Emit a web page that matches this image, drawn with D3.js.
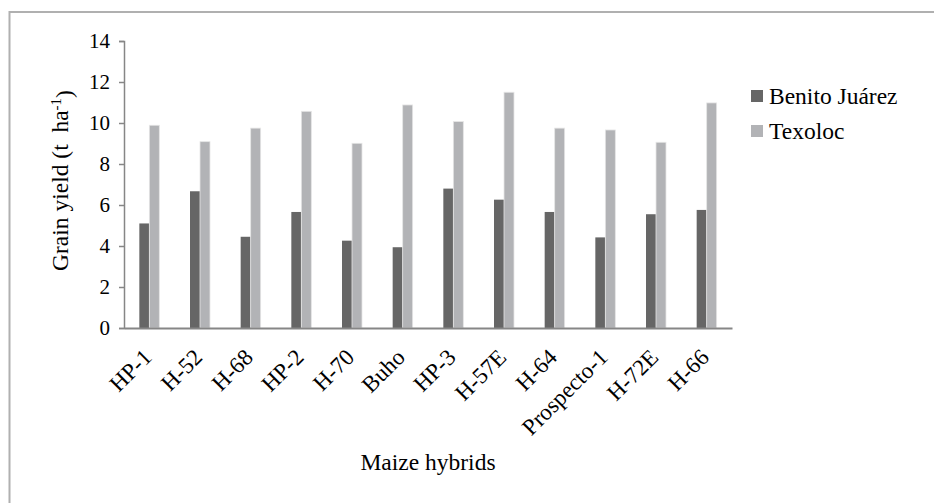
<!DOCTYPE html>
<html>
<head>
<meta charset="utf-8">
<script src="https://cdn.jsdelivr.net/npm/d3@7"></script>
<style>
  body { margin: 0; background: #fff; }
  svg, svg text { font-family: "Liberation Serif", "Times New Roman", Times, serif !important; fill: #000; }
</style>
</head>
<body>
<div id="chart"></div>
<script>
var hybrids = ["HP-1", "H-52", "H-68", "HP-2", "H-70", "Buho", "HP-3", "H-57E", "H-64", "Prospecto-1", "H-72E", "H-66"];
var benitoJuarez = [5.1, 6.67, 4.45, 5.66, 4.26, 3.94, 6.8, 6.26, 5.66, 4.42, 5.55, 5.76];
var texoloc = [9.89, 9.09, 9.75, 10.57, 9.01, 10.88, 10.07, 11.5, 9.75, 9.66, 9.06, 10.98];
var seriesNames = ["Benito Juárez", "Texoloc"];
var yTicks = [0, 2, 4, 6, 8, 10, 12, 14];

var colors = ["#666666", "#b2b3b6"];
var serif = "'Liberation Serif', 'Times New Roman', serif";

var margin = { left: 124, right: 202, top: 41, bottom: 175 };
var width = 934 - margin.left - margin.right,
	height = 503 - margin.top - margin.bottom;

var svg = d3.select("#chart")
	.append("svg")
	.attr("width", 934)
	.attr("height", 503)
	.style("font-family", serif);

// outer frame (only left and top edge show)
svg.append("rect")
	.attr("x", 9.5)
	.attr("y", 12)
	.attr("width", 940)
	.attr("height", 520)
	.attr("fill", "none")
	.attr("stroke", "#b0b0b0")
	.attr("stroke-width", 2);

var g = svg.append("g")
	.attr("transform", "translate(" + margin.left + ", " + margin.top + ")");

var x = d3.scaleBand()
	.domain(hybrids)
	.range([0, width]);

var x1 = d3.scaleBand()
	.domain(seriesNames)
	.range([x.bandwidth() / 2 - 10, x.bandwidth() / 2 + 10]);

var y = d3.scaleLinear()
	.domain([0, 14])
	.range([height, 0]);

var yAxisCall = d3.axisLeft(y)
	.tickValues(yTicks)
	.tickSize(5)
	.tickPadding(9);
var yAxis = g.append("g")
	.attr("class", "y axis")
	.call(yAxisCall)
	.attr("font-family", null);
yAxis.select(".domain").attr("stroke", "#868686").attr("stroke-width", 1.5);
yAxis.selectAll(".tick line").attr("stroke", "#868686").attr("stroke-width", 1.5);
yAxis.selectAll("text")
	.style("font-family", serif)
	.style("font-size", "21px");

var series = [benitoJuarez, texoloc];
series.forEach(function(vals, si){
	g.selectAll("rect.s" + si)
		.data(hybrids)
		.enter()
		.append("rect")
			.attr("class", "s" + si)
			.attr("x", function(d){ return x(d) + x1(seriesNames[si]); })
			.attr("y", function(d, i){ return y(vals[i]); })
			.attr("width", x1.bandwidth())
			.attr("height", function(d, i){ return height - y(vals[i]); })
			.attr("fill", colors[si])
			.attr("stroke", si == 1 ? "#e6e6e6" : "none")
			.attr("stroke-width", 0.8);
});

// x axis line
var xAxisCall = d3.axisBottom(x).tickSize(0).tickFormat("");
g.append("g")
	.attr("class", "x axis")
	.attr("transform", "translate(0, " + height + ")")
	.call(xAxisCall)
	.select(".domain")
		.attr("stroke", "#868686")
		.attr("stroke-width", 2);

g.selectAll("text.xlab")
	.data(hybrids)
	.enter()
	.append("text")
		.attr("class", "xlab")
		.attr("transform", function(d){
			return "translate(" + (x(d) + x.bandwidth() / 2 - 2) + ", " + (height + 25) + ") rotate(-45)";
		})
		.attr("text-anchor", "end")
		.attr("dy", "0.35em")
		.style("font-family", serif)
		.style("font-size", "23px")
		.text(function(d){ return d; });

// y title
var yt = g.append("text")
	.attr("transform", "translate(-56, " + (height / 2 - 4) + ") rotate(-90)")
	.attr("text-anchor", "middle")
	.style("font-family", serif)
	.style("font-size", "23.5px");
yt.append("tspan").text("Grain yield (t\u00a0\u00a0ha");
yt.append("tspan").attr("dy", "-0.45em").style("font-size", "15px").text("-1");
yt.append("tspan").attr("dy", "0.45em").text(")");

// x title
g.append("text")
	.attr("x", 428 - margin.left)
	.attr("y", 470 - margin.top)
	.attr("text-anchor", "middle")
	.style("font-family", serif)
	.style("font-size", "23.5px")
	.text("Maize hybrids");

// legend
var legend = svg.append("g")
	.attr("transform", "translate(751, 0)");
seriesNames.forEach(function(name, i){
	var ly = 96 + i * 35;
	legend.append("rect")
		.attr("x", 0)
		.attr("y", ly - 6)
		.attr("width", 12)
		.attr("height", 12)
		.attr("fill", colors[i]);
	legend.append("text")
		.attr("x", 18)
		.attr("y", ly)
		.attr("dy", "0.35em")
		.style("font-family", serif)
		.style("font-size", "23.5px")
		.text(name);
});
</script>
</body>
</html>
